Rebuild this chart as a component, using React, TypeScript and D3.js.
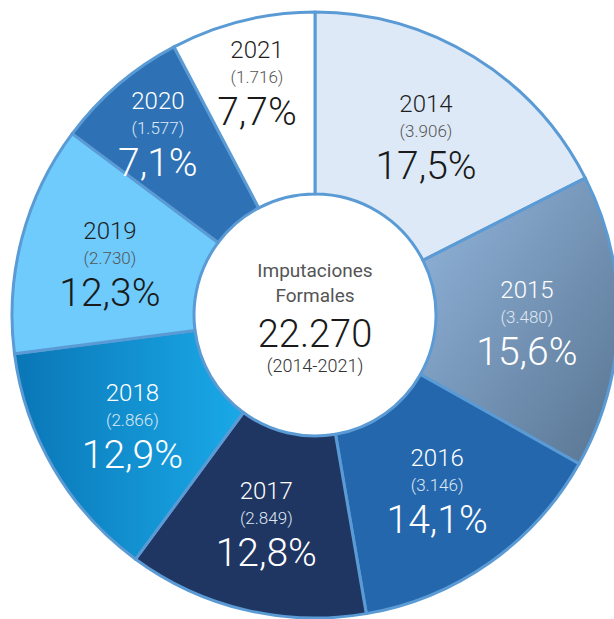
import * as d3 from "d3"

// Imputaciones formales por año (2014-2021)
const years = ["2014", "2015", "2016", "2017", "2018", "2019", "2020", "2021"]
const counts = [3906, 3480, 3146, 2849, 2866, 2730, 1577, 1716]
const countLabels = ["3.906", "3.480", "3.146", "2.849", "2.866", "2.730", "1.577", "1.716"]
const pctLabels = ["17,5%", "15,6%", "14,1%", "12,8%", "12,9%", "12,3%", "7,1%", "7,7%"]
const totalLabel = "22.270"
const periodLabel = "(2014-2021)"

const fills = [
  "#dde9f6",
  "url(#g2015)",
  "#2467ad",
  "#1f3562",
  "url(#g2018)",
  "#6ecbfc",
  "#2e72b5",
  "#ffffff",
]
const darkText = ["2014", "2019", "2021"]

const W = 614
const H = 619
const cx = 315
const cy = 315
const innerR = 121
const outerR = 303

const App = () => {
  const pie = d3
    .pie<number>()
    .sort(null)
    .value((d) => d)
  const arcs = pie(counts)

  const arc = d3.arc<d3.PieArcDatum<number>>().innerRadius(innerR).outerRadius(outerR)
  // narrow slices get their labels pushed outward
  const labelArc = (d: d3.PieArcDatum<number>) => {
    const r = d.endAngle - d.startAngle < 0.6 ? 242 : 212
    return d3.arc<d3.PieArcDatum<number>>().innerRadius(r).outerRadius(r).centroid(d)
  }

  return (
    <svg
      width={W}
      height={H}
      style={{ position: "absolute", left: 0, top: 0, background: "#fff" }}
      fontFamily="Roboto, 'Open Sans', sans-serif"
    >
      <defs>
        <linearGradient id="g2015" x1="0" y1="0" x2="1" y2="1">
          <stop offset="0" stopColor="#93b6dd" />
          <stop offset="1" stopColor="#587491" />
        </linearGradient>
        <linearGradient id="g2018" x1="0" y1="0" x2="1" y2="0">
          <stop offset="0" stopColor="#0a76b6" />
          <stop offset="1" stopColor="#1aa9e8" />
        </linearGradient>
      </defs>
      <g transform={`translate(${cx},${cy})`}>
        {arcs.map((d, i) => (
          <path
            key={years[i]}
            d={arc(d) || ""}
            fill={fills[i]}
            stroke="#5b9bd5"
            strokeWidth={3}
            strokeLinejoin="round"
          />
        ))}
        {arcs.map((d, i) => {
          const [x, y] = labelArc(d)
          const dark = darkText.includes(years[i])
          return (
            <g key={"l" + years[i]} transform={`translate(${x},${y})`} textAnchor="middle">
              <text y={-22} fontSize={24} fontWeight={300} fill={dark ? "#1f1f1f" : "#ffffff"}>
                {years[i]}
              </text>
              <text y={3} fontSize={17} fontWeight={300} fill={dark ? "#555555" : "#dfe8f4"}>
                ({countLabels[i]})
              </text>
              <text y={45} fontSize={39} fontWeight={300} fill={dark ? "#1a1a1a" : "#ffffff"}>
                {pctLabels[i]}
              </text>
            </g>
          )
        })}
        <g textAnchor="middle">
          <text y={-38} fontSize={19} fill="#555555">
            Imputaciones
          </text>
          <text y={-13} fontSize={19} fill="#555555">
            Formales
          </text>
          <text y={32} fontSize={38} fontWeight={300} fill="#1a1a1a">
            {totalLabel}
          </text>
          <text y={57} fontSize={18} fontWeight={300} fill="#333333">
            {periodLabel}
          </text>
        </g>
      </g>
    </svg>
  )
}

export default App
